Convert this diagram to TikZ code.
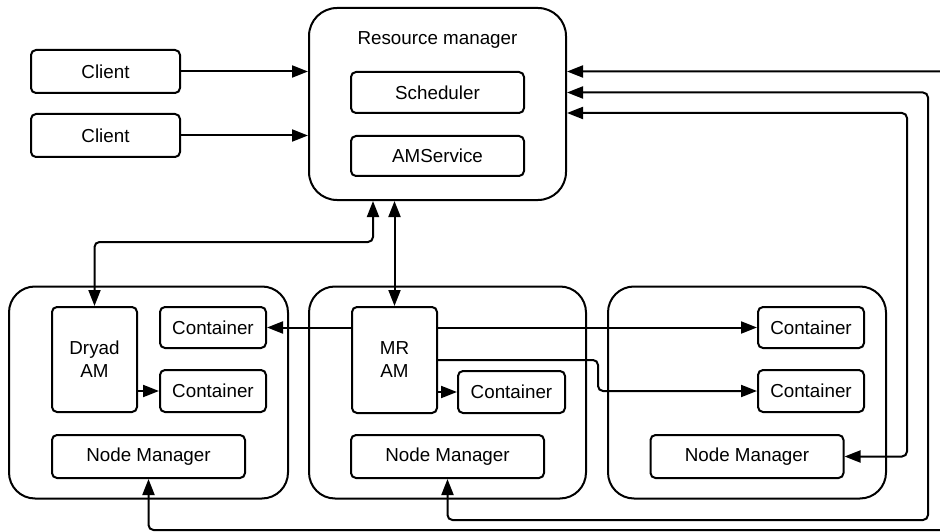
\documentclass[tikz,border=0pt]{standalone}
\usepackage{fontspec}
\setmainfont{Liberation Sans}
\usetikzlibrary{arrows.meta}
\begin{document}
\begin{tikzpicture}[x=1pt,y=-1pt,
  every node/.style={font=\fontsize{18.8}{23}\selectfont},
  box/.style={draw, line width=2pt, rounded corners=5pt, inner sep=0pt, align=center},
  host/.style={draw, line width=2pt, rounded corners=26pt, inner sep=0pt},
  link/.style={line width=2pt, rounded corners=5pt},
  tip/.style={-{Triangle[length=16pt,width=12pt]}},
  both/.style={{Triangle[length=16pt,width=12pt]}-{Triangle[length=16pt,width=12pt]}}
]
\useasboundingbox (0,0) rectangle (940,532);
\clip (0,0) rectangle (940,532);

% Resource manager and its services
\node[host, rounded corners=28pt, minimum width=257pt, minimum height=192pt,
      label={[anchor=center, yshift=-33pt]north:Resource manager}] (rm) at (437.5,104) {};
\node[box, minimum width=173pt, minimum height=41pt] (sched) at (437.5,92.5) {Scheduler};
\node[box, minimum width=173pt, minimum height=40pt] (amsvc) at (437.5,156) {AMService};

% Clients
\node[box, minimum width=149pt, minimum height=43pt] (client1) at (105.5,71.5) {Client};
\node[box, minimum width=149pt, minimum height=43pt] (client2) at (105.5,135.5) {Client};

% Hosts
\node[host, minimum width=279pt, minimum height=212pt] (hostL) at (148.5,392.5) {};
\node[host, minimum width=277pt, minimum height=212pt] (hostM) at (447.5,392.5) {};
\node[host, minimum width=278pt, minimum height=212pt] (hostR) at (747,392.5) {};

% Left host
\node[box, minimum width=85pt, minimum height=105pt] (dryad) at (94.5,359.5) {Dryad\\AM};
\node[box, minimum width=106pt, minimum height=41pt] (cL1) at (213,327.5) {Container};
\node[box, minimum width=106pt, minimum height=42pt] (cL2) at (213,391) {Container};
\node[box, minimum width=193pt, minimum height=43pt] (nmL) at (148.5,456.5) {Node Manager};

% Middle host
\node[box, minimum width=85pt, minimum height=106pt] (mr) at (394.5,360) {MR\\AM};
\node[box, minimum width=107pt, minimum height=42pt] (cM) at (511.5,392) {Container};
\node[box, minimum width=193pt, minimum height=43pt] (nmM) at (447.5,456.5) {Node Manager};

% Right host
\node[box, minimum width=106pt, minimum height=41pt] (cR1) at (811,327.5) {Container};
\node[box, minimum width=106pt, minimum height=42pt] (cR2) at (811,391) {Container};
\node[box, minimum width=193pt, minimum height=43pt] (nmR) at (747,456.5) {Node Manager};

% Routing points
\coordinate (j1) at (373,242);
\coordinate (k1) at (598,360);
\coordinate (o1) at (948,530);
\coordinate (o2) at (928,520);
\coordinate (o3) at (907,113);

% Clients to resource manager
\draw[link, tip] (client1.east) -- (client1.east -| rm.west);
\draw[link, tip] (client2.east) -- (client2.east -| rm.west);

% Application masters and resource manager
\draw[link, both] (dryad.north) |- (j1) -- (j1 |- rm.south);
\draw[link, both] (mr.north) -- (mr.north |- rm.south);

% Application masters to containers
\draw[link, tip] (dryad.east |- cL2) -- (cL2.west);
\draw[link, tip] (mr.west |- cL1) -- (cL1.east);
\draw[link, tip] (mr.east |- cR1) -- (cR1.west);
\draw[link, tip] (mr.east |- cM) -- (cM.west);
\draw[link, tip] (mr.east |- k1) -- (k1) |- (cR2.west);

% Node managers and resource manager
\draw[link, both] (nmL.south) |- (o1) |- (rm.east |- client1);
\draw[link, both] (nmM.south) |- (o2) |- (rm.east |- sched);
\draw[link, both] (nmR.east) -| (o3) -- (rm.east |- o3);
\end{tikzpicture}
\end{document}
